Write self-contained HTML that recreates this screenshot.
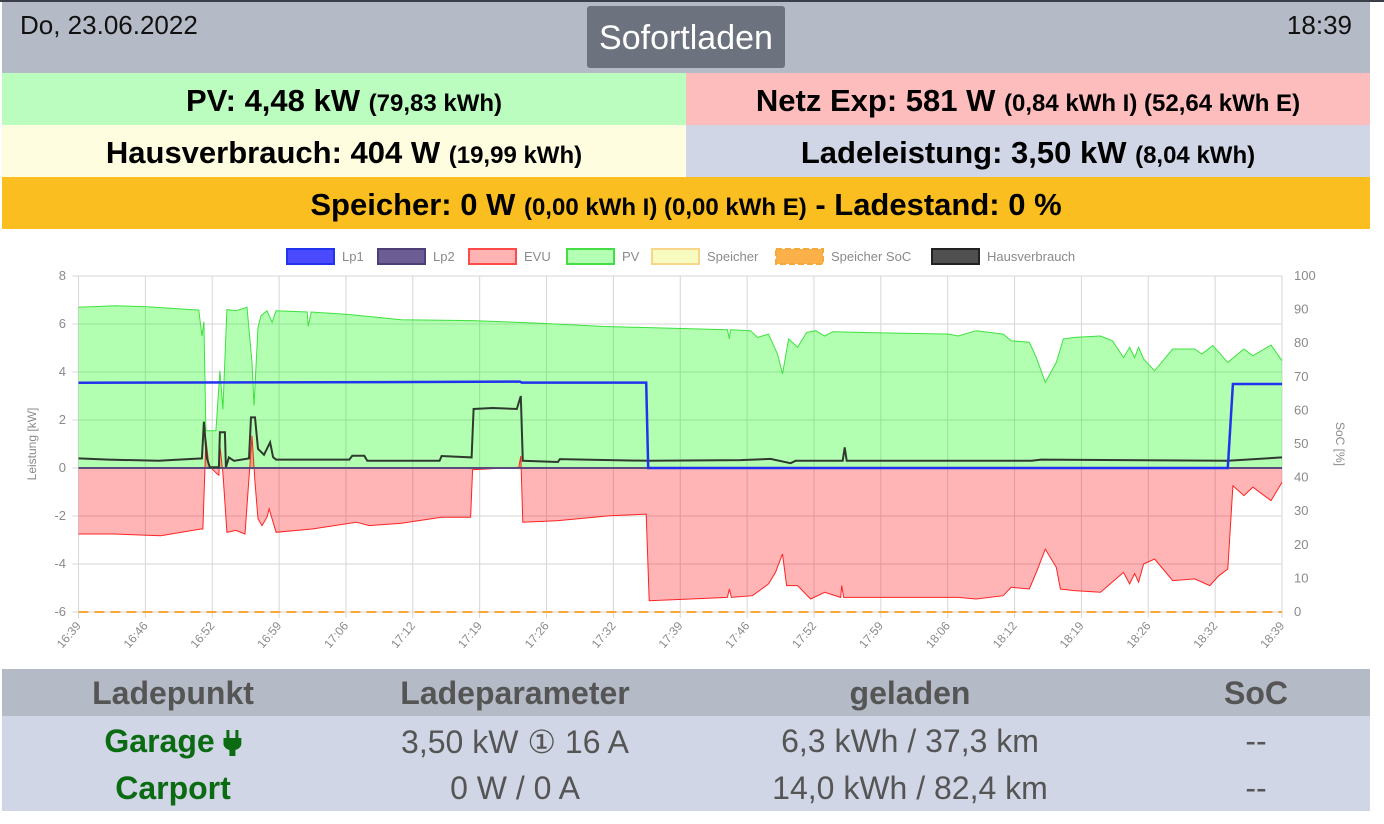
<!DOCTYPE html>
<html><head><meta charset="utf-8"><style>
body{margin:0;width:1384px;height:824px;background:#fff;font-family:"Liberation Sans",sans-serif;position:relative;overflow:hidden}
.abs{position:absolute;box-sizing:border-box}
.topline{left:0;top:0;width:1384px;height:2px;background:#3a3f4a}
.hdr{left:2px;top:2px;width:1368px;height:71px;background:#b5bac7}
.date{left:20px;top:10px;font-size:26px;color:#111}
.time{right:32px;top:10px;font-size:26px;color:#111}
.btn{left:587px;top:6px;width:198px;height:62px;background:#6c737e;border-radius:3px;color:#fff;font-size:34px;text-align:center;line-height:64px}
.row{height:52px;text-align:center;font-weight:bold;font-size:31px;line-height:56px;color:#000;white-space:nowrap}
.row small{font-size:24px}
.tbl{left:2px;width:1368px}
.th{top:669px;height:47px;background:#b5bac7}
.tr{top:716px;height:95px;background:#d0d6e5}
.cell{position:absolute;transform:translateX(-50%);white-space:nowrap;font-size:32px;color:#555}
.h{font-weight:bold;top:6px}
.g{color:#0b6b12;font-weight:bold}
</style></head><body>
<div class="abs topline"></div>
<div class="abs hdr"></div>
<div class="abs date">Do, 23.06.2022</div>
<div class="abs time">18:39</div>
<div class="abs btn">Sofortladen</div>
<div class="abs row" style="left:2px;top:73px;width:684px;background:#bafdbe">PV: 4,48 kW <small>(79,83 kWh)</small></div>
<div class="abs row" style="left:686px;top:73px;width:684px;background:#fdbdbd">Netz Exp: 581 W <small>(0,84 kWh I) (52,64 kWh E)</small></div>
<div class="abs row" style="left:2px;top:125px;width:684px;background:#fefde0">Hausverbrauch: 404 W <small>(19,99 kWh)</small></div>
<div class="abs row" style="left:686px;top:125px;width:684px;background:#d0d6e5">Ladeleistung: 3,50 kW <small>(8,04 kWh)</small></div>
<div class="abs row" style="left:2px;top:177px;width:1368px;background:#fbbe20">Speicher: 0 W <small>(0,00 kWh I) (0,00 kWh E)</small> - Ladestand: 0 %</div>

<svg id="chart" class="abs" style="left:0;top:230px" width="1384" height="438" viewBox="0 230 1384 438" font-family="Liberation Sans, sans-serif"></svg>

<div class="abs tbl th">
<div class="cell h" style="left:171px">Ladepunkt</div>
<div class="cell h" style="left:513px">Ladeparameter</div>
<div class="cell h" style="left:908px">geladen</div>
<div class="cell h" style="left:1254px">SoC</div>
</div>
<div class="abs tbl tr">
<div class="cell g" style="left:171px;top:7px">Garage <svg width="18" height="26" viewBox="0 0 18 26" style="vertical-align:-4px"><rect x="3" y="0" width="3" height="8" fill="#0b6b12"/><rect x="12" y="0" width="3" height="8" fill="#0b6b12"/><path d="M0 8h18v6a9 7 0 0 1-6 6v6h-6v-6a9 7 0 0 1-6-6z" fill="#0b6b12"/></svg></div>
<div class="cell" style="left:513px;top:7px">3,50 kW ① 16 A</div>
<div class="cell" style="left:908px;top:7px">6,3 kWh / 37,3 km</div>
<div class="cell" style="left:1254px;top:7px">--</div>
<div class="cell g" style="left:171px;top:54px">Carport</div>
<div class="cell" style="left:513px;top:54px">0 W / 0 A</div>
<div class="cell" style="left:908px;top:54px">14,0 kWh / 82,4 km</div>
<div class="cell" style="left:1254px;top:54px">--</div>
</div>

<script>
const xTicks=["16:39","16:46","16:52","16:59","17:06","17:12","17:19","17:26","17:32","17:39","17:46","17:52","17:59","18:06","18:12","18:19","18:26","18:32","18:39"];
const yTicks=[8,6,4,2,0,-2,-4,-6];
const socTicks=[100,90,80,70,60,50,40,30,20,10,0];
const legendNames=["Lp1","Lp2","EVU","PV","Speicher","Speicher SoC","Hausverbrauch"];
// minutes since 16:39
const pvT=[0,3.7,6.8,12,12.3,12.5,12.7,13.7,14.1,14.4,14.8,15.7,16.8,17.3,17.5,17.9,18.2,18.8,19.3,19.7,22.8,22.9,23.2,26.8,32.2,39.3,45.5,52.2,61,64.7,64.9,65,67,67.7,68.8,69.7,70.2,70.8,71.7,72.6,73.5,74.4,75.2,80.1,86.8,87.7,89.5,92.2,93,94.8,95.5,96.4,97.5,98.2,99.3,101.9,103.1,104.2,104.8,105.3,105.7,106.2,107.3,109.1,111.3,112,113.1,114,114.6,116.2,117.1,118.9,120];
const pvV=[6.7,6.76,6.72,6.58,5.5,6.1,1.55,1.55,4.05,2.45,6.6,6.55,6.7,4.4,2.6,5.86,6.35,6.55,6.07,6.55,6.5,5.9,6.5,6.4,6.18,6.14,6.04,5.9,5.8,5.76,5.38,5.76,5.72,5.44,5.58,4.75,3.92,5.38,5.03,5.65,5.72,5.5,5.68,5.63,5.58,5.5,5.72,5.58,5.3,5.24,4.6,3.57,4.4,5.38,5.44,5.5,5.3,4.6,5.03,4.6,5.03,4.54,4.05,4.96,4.96,4.75,5.1,4.68,4.4,4.96,4.68,5.12,4.47];
const evuT=[0,3.5,8.2,12.2,12.4,12.7,13,13.7,14,14.1,14.4,14.8,15.7,16.6,17.3,17.6,17.9,18.3,18.8,19,19.7,23.3,27.7,29,32.2,36.2,39.1,39.3,43.9,44.1,44.3,47.7,53,56.6,56.9,61,64.7,64.9,65.1,67.2,68.8,69.5,70.2,70.6,71.7,73,74.4,76,76.1,76.3,87.7,89.5,92.2,93,94.8,95.5,96.4,97.5,97.9,99.3,101.9,104.2,104.8,105.3,105.7,106.2,107.3,109.1,111.3,112.8,113.7,114.6,115.1,116.2,117.1,118.9,120];
const evuV=[-2.75,-2.75,-2.82,-2.54,-2.54,1.2,0.1,-0.2,-0.3,0.93,-0.2,-2.68,-2.6,-2.75,1.35,-0.6,-2.12,-2.4,-2.05,-1.7,-2.68,-2.54,-2.26,-2.4,-2.3,-2.05,-2.05,-0.07,0.03,0.5,-2.26,-2.2,-1.99,-1.92,-5.53,-5.46,-5.39,-5.04,-5.39,-5.32,-4.83,-4.35,-3.58,-4.9,-4.9,-5.46,-5.18,-5.39,-4.9,-5.39,-5.39,-5.46,-5.32,-4.97,-5.04,-4.35,-3.38,-4.14,-5.04,-5.11,-5.18,-4.35,-4.83,-4.4,-4.76,-4,-3.79,-4.69,-4.62,-4.9,-4.49,-4.21,-0.74,-1.15,-0.8,-1.36,-0.6];
const lp1T=[0,30,44,44.2,56.6,56.8,114.6,115.1,120];
const lp1V=[3.55,3.58,3.6,3.56,3.56,0,0,3.5,3.5];
const hausT=[0,3,8,10,12.3,12.5,12.8,13.1,13.8,14,14.1,14.6,14.7,15,15.5,17,17.2,17.6,17.9,18.5,19.1,19.4,19.7,27,27.3,28.5,28.8,36,36.2,39.2,39.4,41.3,43.7,44.1,44.3,47.8,48,56.8,66,69,71,71.5,76.2,76.4,76.6,95,96,114.6,120];
const hausV=[0.4,0.35,0.3,0.35,0.4,1.93,0.4,0.03,0.03,0.03,1.49,1.49,0.03,0.44,0.3,0.4,2.11,2.11,0.8,0.55,1.07,0.45,0.35,0.35,0.51,0.51,0.3,0.3,0.5,0.44,2.46,2.5,2.46,3.0,0.3,0.25,0.37,0.3,0.33,0.38,0.2,0.3,0.3,0.86,0.3,0.3,0.35,0.3,0.44];
const lp2T=[0,120];
const lp2V=[0,0];
const socT=[0,120];
const socV=[0,0];

const svg=document.getElementById('chart');
const NS='http://www.w3.org/2000/svg';
const X0=78.5,X1=1282,Y0=276,Y1=612;
const x=t=>X0+t*(X1-X0)/120;
const y=v=>Y1-(v+6)*(Y1-Y0)/14;
const ys=p=>Y1-p*(Y1-Y0)/100;
function mk(tag,a){const e=document.createElementNS(NS,tag);for(const k in a)e.setAttribute(k,a[k]);svg.appendChild(e);return e;}
function pts(T,V,f){return T.map((t,i)=>x(t).toFixed(1)+','+f(V[i]).toFixed(1)).join(' ');}

xTicks.forEach((lab,i)=>{const xx=x(i*120/18);
 const g=mk('line',{x1:xx,x2:xx,y1:Y0,y2:Y1+6,stroke:'#d6d6d6','stroke-width':1});
 
 
 const t=mk('text',{x:xx+3,y:Y1+14,'font-size':12,fill:'#8a8a8a','text-anchor':'end',transform:`rotate(-50 ${xx+3} ${Y1+14})`});
 t.textContent=lab;
 
 
});
yTicks.forEach(v=>{const yy=y(v);
 const g=mk('line',{x1:X0-6,x2:X1,y1:yy,y2:yy,stroke:'#d6d6d6','stroke-width':1});
 
 
 const t=mk('text',{x:66,y:yy+4,'font-size':13,fill:'#8a8a8a','text-anchor':'end'});
 t.textContent=v;
 
 
});
socTicks.forEach(v=>{const t=mk('text',{x:1294,y:ys(v)+4,'font-size':13,fill:'#8a8a8a'});
 t.textContent=v;
 
 
});
mk('line',{x1:X1,x2:X1,y1:Y0,y2:Y1,stroke:'#d6d6d6'});
let yl=mk('text',{x:36,y:444,'font-size':12,fill:'#8a8a8a','text-anchor':'middle',transform:'rotate(-90 36 444)'});
yl.textContent='Leistung [kW]';


let yr=mk('text',{x:1336,y:444,'font-size':12,fill:'#8a8a8a','text-anchor':'middle',transform:'rotate(90 1336 444)'});
yr.textContent='SoC [%]';



const z=y(0);
let pvA=mk('polygon',{points:x(pvT[0])+','+z+' '+pts(pvT,pvV,y)+' '+x(pvT[pvT.length-1])+','+z,fill:'rgba(0,255,0,0.3)',stroke:'none'});


let evA=mk('polygon',{points:x(evuT[0])+','+z+' '+pts(evuT,evuV,y)+' '+x(evuT[evuT.length-1])+','+z,fill:'rgba(255,10,13,0.3)',stroke:'none'});


let pvL=mk('polyline',{points:pts(pvT,pvV,y),fill:'none',stroke:'#3de23d','stroke-width':1});


let evL=mk('polyline',{points:pts(evuT,evuV,y),fill:'none',stroke:'#f22','stroke-width':1});


let socL=mk('polyline',{points:pts(socT,socV,ys),fill:'none',stroke:'#f7a83a','stroke-width':2,'stroke-dasharray':'10,6'});


let lp2L=mk('polyline',{points:pts(lp2T,lp2V,y),fill:'none',stroke:'#5a4d7e','stroke-width':2});


let hL=mk('polyline',{points:pts(hausT,hausV,y),fill:'none',stroke:'#2f3a2f','stroke-width':2});


let lp1L=mk('polyline',{points:pts(lp1T,lp1V,y),fill:'none',stroke:'#2233ee','stroke-width':2.5});



const legFill=['#4a4aff','#6c5d94','#ffb3b3','#b3ffb3','#f7fbbf','#fbb04a','#505050'];
const legStroke=['#2233ee','#4b3f75','#ff4a4a','#44dd44','#f7d68a','#f7a83a','#222'];
const legX=[287,378,469,567,652,776,932];
legendNames.forEach((n,i)=>{
 const r=mk('rect',{x:legX[i],y:249,width:47,height:15,fill:legFill[i],stroke:legStroke[i],'stroke-width':2,'stroke-dasharray':i==5?'6,3':'none'});
 
 
 const t=mk('text',{x:legX[i]+55,y:261,'font-size':13,fill:'#8a8a8a'});
 t.textContent=n;
 
 
});
</script>
</body></html>
